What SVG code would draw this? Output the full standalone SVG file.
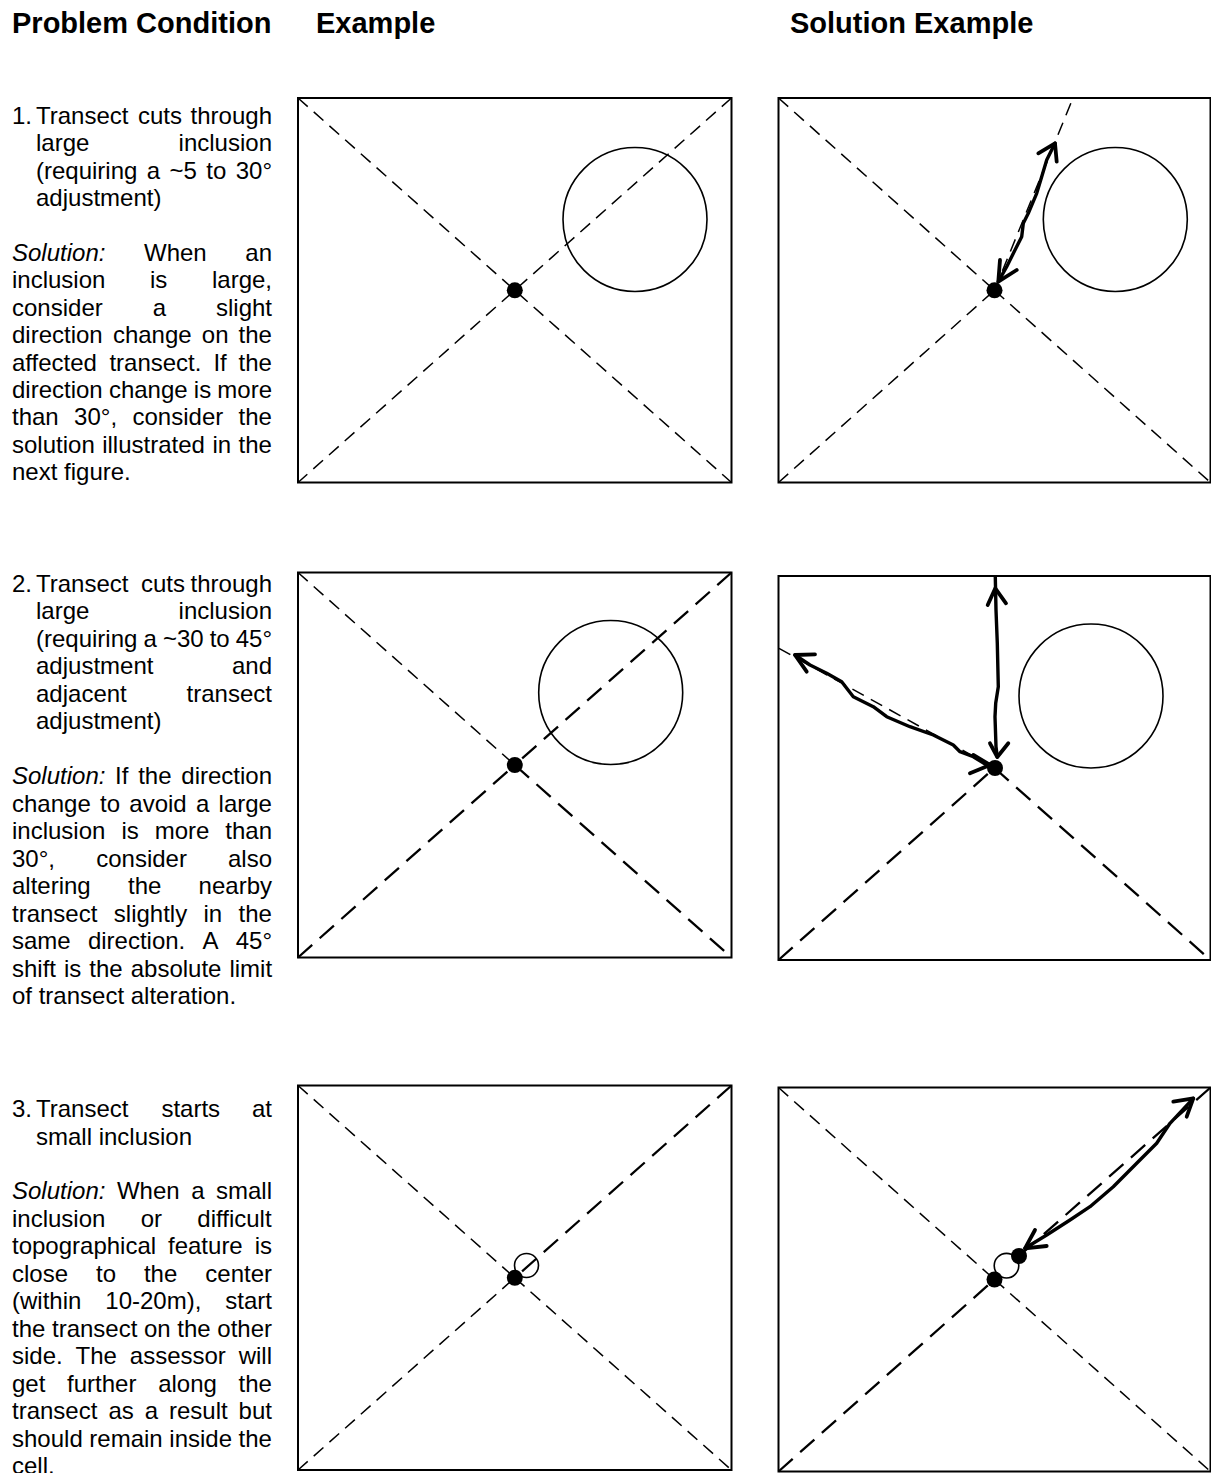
<svg xmlns="http://www.w3.org/2000/svg" width="1211" height="1473" viewBox="0 0 1211 1473">
<style>
text{font-family:"Liberation Sans",Arial,sans-serif;fill:#000}
.h{font-size:29px;font-weight:bold}
.b{font-size:24px}
.i{font-style:italic}
.box{fill:none;stroke:#000;stroke-width:2}
.inc{fill:none;stroke:#000;stroke-width:1.6}
.d1{fill:none;stroke:#000;stroke-width:1.5;stroke-dasharray:13 8}
.d2{fill:none;stroke:#000;stroke-width:2.3;stroke-dasharray:19 10}
.dot{fill:#000}
.arr{fill:none;stroke:#000;stroke-width:3.4;stroke-linecap:round;stroke-linejoin:round}
.ah{fill:none;stroke:#000;stroke-width:3.8;stroke-linecap:round;stroke-linejoin:round}
</style>
<rect width="1211" height="1473" fill="#fff"/>
<g id="headers">
<text class="h" x="12" y="33">Problem Condition</text>
<text class="h" x="316" y="33">Example</text>
<text class="h" x="790" y="33">Solution Example</text>
</g>
<g id="text-1">
<text class="b" y="124"><tspan x="12">1.</tspan><tspan x="36">Transect</tspan><tspan x="138">cuts</tspan><tspan x="190.6">through</tspan></text>
<text class="b" y="151.4"><tspan x="36">large</tspan><tspan x="178.6">inclusion</tspan></text>
<text class="b" y="178.8"><tspan x="36">(requiring</tspan><tspan x="146.8">a</tspan><tspan x="169.5">~5</tspan><tspan x="206.3">to</tspan><tspan x="235.7">30°</tspan></text>
<text class="b" y="206.2"><tspan x="36">adjustment)</tspan></text>
<text class="b" y="261"><tspan x="12" class="i">Solution:</tspan><tspan x="144">When</tspan><tspan x="245.3">an</tspan></text>
<text class="b" y="288.4"><tspan x="12">inclusion</tspan><tspan x="150">is</tspan><tspan x="212">large,</tspan></text>
<text class="b" y="315.8"><tspan x="12">consider</tspan><tspan x="152.7">a</tspan><tspan x="216">slight</tspan></text>
<text class="b" y="343.2"><tspan x="12">direction</tspan><tspan x="112.9">change</tspan><tspan x="201.8">on</tspan><tspan x="238.6">the</tspan></text>
<text class="b" y="370.6"><tspan x="12">affected</tspan><tspan x="109.4">transect.</tspan><tspan x="213.4">If</tspan><tspan x="238.6">the</tspan></text>
<text class="b" y="398"><tspan x="12">direction</tspan><tspan x="108.9">change</tspan><tspan x="193.8">is</tspan><tspan x="217.3">more</tspan></text>
<text class="b" y="425.4"><tspan x="12">than</tspan><tspan x="74.1">30°,</tspan><tspan x="132.5">consider</tspan><tspan x="238.6">the</tspan></text>
<text class="b" y="452.8"><tspan x="12">solution</tspan><tspan x="102.2">illustrated</tspan><tspan x="212.4">in</tspan><tspan x="238.6">the</tspan></text>
<text class="b" y="480.2"><tspan x="12">next figure.</tspan></text>
</g>
<g id="text-2">
<text class="b" y="591.5"><tspan x="12">2.</tspan><tspan x="36">Transect</tspan><tspan x="141">cuts</tspan><tspan x="190.6">through</tspan></text>
<text class="b" y="619"><tspan x="36">large</tspan><tspan x="178.6">inclusion</tspan></text>
<text class="b" y="646.5"><tspan x="36">(requiring</tspan><tspan x="143.5">a</tspan><tspan x="162.9">~30</tspan><tspan x="209.7">to</tspan><tspan x="235.7">45°</tspan></text>
<text class="b" y="674"><tspan x="36">adjustment</tspan><tspan x="232">and</tspan></text>
<text class="b" y="701.5"><tspan x="36">adjacent</tspan><tspan x="186.6">transect</tspan></text>
<text class="b" y="729"><tspan x="36">adjustment)</tspan></text>
<text class="b" y="784"><tspan x="12" class="i">Solution:</tspan><tspan x="115.1">If</tspan><tspan x="138.2">the</tspan><tspan x="181.3">direction</tspan></text>
<text class="b" y="811.5"><tspan x="12">change</tspan><tspan x="100">to</tspan><tspan x="129.3">avoid</tspan><tspan x="196">a</tspan><tspan x="218.6">large</tspan></text>
<text class="b" y="839"><tspan x="12">inclusion</tspan><tspan x="121.4">is</tspan><tspan x="154.7">more</tspan><tspan x="225.3">than</tspan></text>
<text class="b" y="866.5"><tspan x="12">30°,</tspan><tspan x="96.2">consider</tspan><tspan x="228">also</tspan></text>
<text class="b" y="894"><tspan x="12">altering</tspan><tspan x="128">the</tspan><tspan x="198.6">nearby</tspan></text>
<text class="b" y="921.5"><tspan x="12">transect</tspan><tspan x="113.8">slightly</tspan><tspan x="203.5">in</tspan><tspan x="238.6">the</tspan></text>
<text class="b" y="949"><tspan x="12">same</tspan><tspan x="87.9">direction.</tspan><tspan x="202.5">A</tspan><tspan x="235.7">45°</tspan></text>
<text class="b" y="976.5"><tspan x="12">shift</tspan><tspan x="64">is</tspan><tspan x="89.3">the</tspan><tspan x="130.7">absolute</tspan><tspan x="229.4">limit</tspan></text>
<text class="b" y="1004"><tspan x="12">of transect alteration.</tspan></text>
</g>
<g id="text-3">
<text class="b" y="1117"><tspan x="12">3.</tspan><tspan x="36">Transect</tspan><tspan x="161.4">starts</tspan><tspan x="252">at</tspan></text>
<text class="b" y="1144.5"><tspan x="36">small inclusion</tspan></text>
<text class="b" y="1199"><tspan x="12" class="i">Solution:</tspan><tspan x="116.9">When</tspan><tspan x="191.2">a</tspan><tspan x="216">small</tspan></text>
<text class="b" y="1226.5"><tspan x="12">inclusion</tspan><tspan x="140.7">or</tspan><tspan x="197.3">difficult</tspan></text>
<text class="b" y="1254"><tspan x="12">topographical</tspan><tspan x="168">feature</tspan><tspan x="254.7">is</tspan></text>
<text class="b" y="1281.5"><tspan x="12">close</tspan><tspan x="96">to</tspan><tspan x="143.9">the</tspan><tspan x="205.3">center</tspan></text>
<text class="b" y="1309"><tspan x="12">(within</tspan><tspan x="105.3">10-20m),</tspan><tspan x="225.3">start</tspan></text>
<text class="b" y="1336.5"><tspan x="12">the</tspan><tspan x="52">transect</tspan><tspan x="144">on</tspan><tspan x="177.3">the</tspan><tspan x="217.3">other</tspan></text>
<text class="b" y="1364"><tspan x="12">side.</tspan><tspan x="75.6">The</tspan><tspan x="129.8">assessor</tspan><tspan x="238.7">will</tspan></text>
<text class="b" y="1391.5"><tspan x="12">get</tspan><tspan x="67.1">further</tspan><tspan x="158.2">along</tspan><tspan x="238.6">the</tspan></text>
<text class="b" y="1419"><tspan x="12">transect</tspan><tspan x="108.4">as</tspan><tspan x="144.7">a</tspan><tspan x="169">result</tspan><tspan x="238.6">but</tspan></text>
<text class="b" y="1446.5"><tspan x="12">should</tspan><tspan x="89.3">remain</tspan><tspan x="169.3">inside</tspan><tspan x="238.6">the</tspan></text>
<text class="b" y="1474"><tspan x="12">cell.</tspan></text>
</g>
<g id="p1-example">
<rect class="box" x="298" y="98" width="433.5" height="384.5"/>
<line class="d1" x1="298" y1="98" x2="731.5" y2="482.5"/>
<line class="d1" x1="731.5" y1="98" x2="298" y2="482.5"/>
<circle class="inc" cx="635" cy="219.5" r="72"/>
<circle class="dot" cx="514.8" cy="290.3" r="8"/>
</g>
<g id="p1-solution">
<rect class="box" x="778.5" y="98" width="432" height="384.5"/>
<line class="d1" x1="778.5" y1="98" x2="994.5" y2="290.3"/>
<line class="d1" x1="778.5" y1="482.5" x2="994.5" y2="290.3"/>
<line class="d1" x1="994.5" y1="290.3" x2="1210.5" y2="482.5"/>
<line class="d1" x1="994.5" y1="290.3" x2="1073" y2="98"/>
<circle class="inc" cx="1115.3" cy="219.5" r="72"/>
<circle class="dot" cx="994.5" cy="290.3" r="8"/>
</g>
<g id="p2-example">
<rect class="box" x="298" y="572.5" width="433.5" height="385"/>
<line class="d1" x1="298" y1="572.5" x2="514.8" y2="765"/>
<line class="d2" x1="731.5" y1="572.5" x2="514.8" y2="765"/>
<line class="d2" x1="298" y1="957.5" x2="514.8" y2="765"/>
<line class="d2" x1="514.8" y1="765" x2="731.5" y2="957.5"/>
<circle class="inc" cx="610.7" cy="692.5" r="72"/>
<circle class="dot" cx="514.8" cy="765" r="8"/>
</g>
<g id="p2-solution">
<rect class="box" x="778.5" y="576" width="432" height="384"/>
<line class="d2" x1="778.5" y1="960" x2="994.5" y2="768"/>
<line class="d2" x1="994.5" y1="768" x2="1210.5" y2="960"/>
<line class="d1" x1="779" y1="648.3" x2="994.5" y2="768"/>
<circle class="inc" cx="1091" cy="696" r="72"/>
<circle class="dot" cx="995" cy="768" r="8"/>
</g>
<g id="p3-example">
<rect class="box" x="298" y="1085.5" width="433.5" height="384.5"/>
<line class="d1" x1="298" y1="1085.5" x2="514.8" y2="1277.8"/>
<line class="d2" x1="731.5" y1="1085.5" x2="514.8" y2="1277.8"/>
<line class="d1" x1="298" y1="1470" x2="514.8" y2="1277.8"/>
<line class="d1" x1="514.8" y1="1277.8" x2="731.5" y2="1470"/>
<circle class="inc" cx="526.5" cy="1265.5" r="12"/>
<circle class="dot" cx="514.8" cy="1277.8" r="8"/>
</g>
<g id="p3-solution">
<rect class="box" x="778.5" y="1087.5" width="432" height="384"/>
<line class="d1" x1="778.5" y1="1087.5" x2="994.5" y2="1279.5"/>
<line class="d1" x1="994.5" y1="1279.5" x2="1210.5" y2="1471.5"/>
<line class="d2" x1="778.5" y1="1471.5" x2="994.5" y2="1279.5"/>
<line class="d2" x1="1210.5" y1="1087.5" x2="1019" y2="1256"/>
<circle class="inc" cx="1006.5" cy="1265.7" r="12.3"/>
<circle class="dot" cx="994.5" cy="1279.5" r="8"/>
<circle class="dot" cx="1019" cy="1256" r="8"/>
</g>
<g id="connectors">
<polyline class="arr" points="998.3,281.7 1006.7,266.7 1015,250 1021.7,236.7 1023.3,223.3 1028.3,213.3 1036.7,193.3 1041.7,176.7 1046.7,160 1055,143.3"/>
<polyline class="ah" points="1038.3,153.3 1055,143.3 1056.7,161.7"/>
<polyline class="ah" points="1000,260 998.3,281.7 1016.7,270"/>
<polyline class="arr" points="995.3,577 996,610 997.3,643.3 998.3,686.7 995.7,703.3 995,716.7 996,746.7 997.3,757"/>
<polyline class="ah" points="987.7,605 995.3,588.3 1006,603.3"/>
<polyline class="ah" points="990,743.3 997.3,757 1008.3,743.3"/>
<polyline class="arr" points="795,655 810,665 826.7,673.3 841.7,681.7 846.7,688.3 853.3,696.7 873.3,706.7 886.7,716.7 910,726.7 933.3,735 953.3,745 960,751.7 973.3,756.7 986.7,765 993,768"/>
<polyline class="ah" points="815,654.3 795,655 806.7,671.7"/>
<polyline class="ah" points="973.3,755 990,765 970,773.3"/>
<polyline class="arr" points="1025,1248.3 1046.7,1235 1070,1220 1090,1206.7 1113.3,1186.7 1136.7,1163.3 1156.7,1143.3 1170,1123.3 1193.3,1098.3"/>
<polyline class="ah" points="1173.3,1101.7 1193.3,1098.3 1186.7,1116.7"/>
<polyline class="ah" points="1035,1230 1025,1248.3 1046.7,1246"/>
</g>
</svg>
